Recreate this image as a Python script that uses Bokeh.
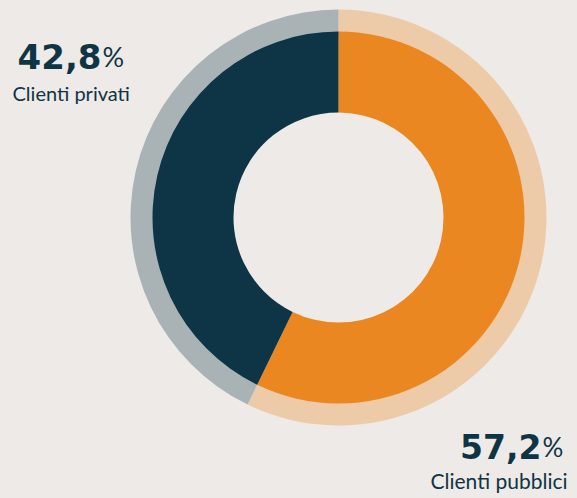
from bokeh.plotting import figure
from bokeh.models import Range1d
from bokeh.embed import file_html
from bokeh.resources import INLINE
from bokeh.core.properties import value
import math

# ---- data ----
categories = ["Clienti pubblici", "Clienti privati"]
shares = [57.2, 42.8]
share_labels = ["57,2", "42,8"]
main_colors = ["#EB8720", "#0E3545"]
halo_colors = ["#EDCBA8", "#A9B3B6"]

BG = "#EEEAE7"
TXT = "#0E3545"

W, H = 577, 498
p = figure(width=W, height=H, output_backend="svg", toolbar_location=None,
           x_range=Range1d(0, W), y_range=Range1d(0, H), min_border=0)
p.axis.visible = False
p.grid.visible = False
p.outline_line_color = None
p.background_fill_color = BG
p.border_fill_color = BG

def sy(y):
    return H - y

cx, cy = 338, sy(217)

# angles: start at top, go clockwise
total = sum(shares)
starts, ends = [], []
acc = 0.0
for s in shares:
    a0 = math.pi / 2 - 2 * math.pi * acc / total
    a1 = math.pi / 2 - 2 * math.pi * (acc + s) / total
    starts.append(a1)
    ends.append(a0)
    acc += s

p.annular_wedge(x=[cx] * 2, y=[cy] * 2, inner_radius=180, outer_radius=208,
                start_angle=starts, end_angle=ends, color=halo_colors, line_color=None)
p.annular_wedge(x=[cx] * 2, y=[cy] * 2, inner_radius=105, outer_radius=186,
                start_angle=starts, end_angle=ends, color=main_colors, line_color=None)

# labels: left (privati)
p.text(x=[101], y=[sy(56)], text=[share_labels[1]], text_font=value("DejaVu Sans"),
       text_font_style="bold", text_font_size="34px", text_color=TXT,
       text_align="right", text_baseline="alphabetic")
p.text(x=[102], y=[sy(56)], text=["%"], text_font=value("Lato"),
       text_font_size="27px", text_color=TXT, text_align="left", text_baseline="alphabetic")
p.text(x=[12], y=[sy(92)], text=[categories[1]], text_font=value("Lato"),
       text_font_size="20px", text_color=TXT, text_align="left", text_baseline="alphabetic")

# labels: right (pubblici)
p.text(x=[541], y=[sy(446)], text=[share_labels[0]], text_font=value("DejaVu Sans"),
       text_font_style="bold", text_font_size="33px", text_color=TXT,
       text_align="right", text_baseline="alphabetic")
p.text(x=[542], y=[sy(446)], text=["%"], text_font=value("Lato"),
       text_font_size="26px", text_color=TXT, text_align="left", text_baseline="alphabetic")
p.text(x=[567], y=[sy(480)], text=[categories[0]], text_font=value("Lato"),
       text_font_size="21px", text_color=TXT, text_align="right", text_baseline="alphabetic")

html = file_html(p, INLINE)
html = html.replace("<head>", "<head><style>html,body{background:#EEEAE7;}</style>", 1)
open("out.html", "w").write(html)
